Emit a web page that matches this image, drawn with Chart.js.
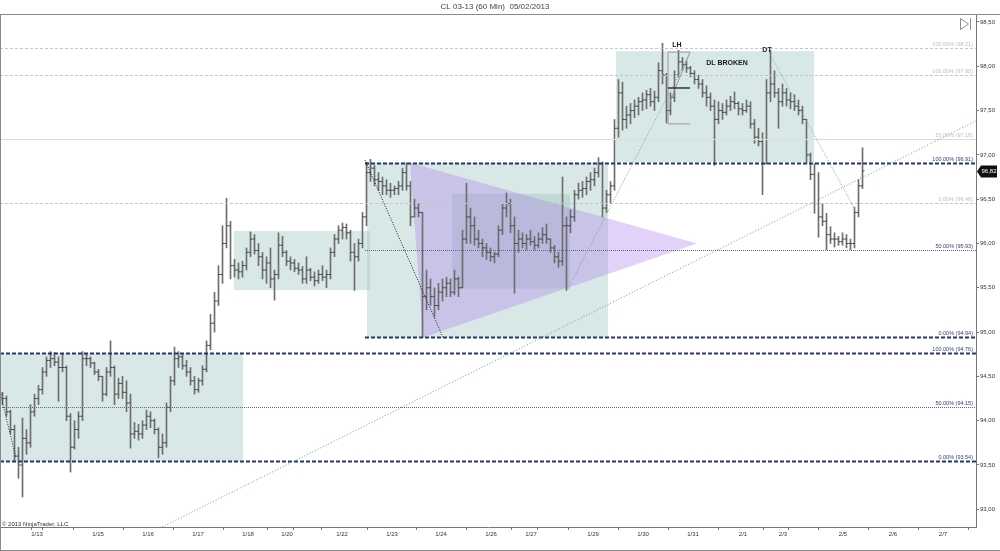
<!DOCTYPE html>
<html>
<head>
<meta charset="utf-8">
<script src="https://cdn.jsdelivr.net/npm/chart.js@4.4.1/dist/chart.umd.min.js"></script>
<style>
  html, body { margin: 0; padding: 0; background: #fff; }
</style>
</head>
<body>
<canvas id="chart" width="1000" height="551"></canvas>
<script>
// CL 03-13, 60 min bars (one entry per bar)
const highs = [
  94.32,94.28,94.12,93.95,93.70,94.03,93.90,94.18,94.30,94.40,
  94.60,94.72,94.78,94.77,94.72,94.75,94.62,94.08,94.00,94.10,
  94.78,94.76,94.72,94.66,94.58,94.50,94.60,94.90,94.62,94.48,
  94.50,94.45,94.30,93.98,93.96,94.00,94.12,94.10,94.02,93.92,
  93.85,94.20,94.50,94.83,94.78,94.75,94.68,94.60,94.50,94.48,
  94.62,94.90,95.20,95.45,95.75,96.20,96.51,96.25,95.82,95.78,
  95.80,95.95,96.13,96.10,96.00,95.90,95.85,95.95,95.70,96.12,
  96.08,95.92,95.85,95.82,95.78,95.74,95.85,95.72,95.68,95.70,
  95.75,95.70,95.95,96.10,96.20,96.23,96.22,96.15,96.00,96.05,
  96.35,96.92,96.95,96.88,96.80,96.75,96.72,96.68,96.65,96.70,
  96.85,96.91,96.70,96.50,96.45,96.35,95.70,95.60,95.50,95.55,
  95.60,95.62,95.60,95.70,95.62,96.15,96.68,96.40,96.30,96.15,
  96.05,96.00,95.95,95.90,96.20,96.45,96.57,96.50,96.30,96.15,
  96.12,96.10,96.15,96.08,96.12,96.18,96.22,96.05,95.98,95.90,
  96.75,96.30,96.38,96.60,96.68,96.70,96.75,96.80,96.85,96.97,
  96.92,96.60,96.70,97.40,97.85,97.82,97.55,97.58,97.62,97.65,
  97.70,97.73,97.75,97.72,98.04,98.26,97.92,97.70,97.95,98.18,
  98.10,98.06,98.00,97.95,97.90,97.85,97.78,97.70,97.62,97.60,
  97.58,97.62,97.66,97.71,97.60,97.58,97.62,97.60,97.40,97.30,
  97.25,97.85,98.18,97.95,97.75,97.80,97.75,97.70,97.68,97.62,
  97.55,97.40,97.02,96.90,96.80,96.45,96.34,96.19,96.12,96.08,
  96.12,96.10,96.05,96.41,96.72,97.08
];
const lows = [
  94.18,94.05,93.85,93.55,93.35,93.14,93.62,93.70,94.05,94.18,
  94.30,94.50,94.60,94.62,94.22,94.55,94.00,93.42,93.68,93.80,
  94.00,94.62,94.60,94.52,94.45,94.22,94.28,94.50,94.18,94.25,
  94.25,94.10,93.69,93.80,93.78,93.80,93.90,93.92,93.85,93.58,
  93.62,93.70,94.10,94.40,94.60,94.58,94.50,94.40,94.30,94.32,
  94.40,94.55,94.80,95.00,95.30,95.55,95.95,95.60,95.62,95.60,
  95.62,95.70,95.85,95.88,95.75,95.60,95.55,95.50,95.36,95.60,
  95.85,95.75,95.70,95.68,95.65,95.55,95.55,95.58,95.52,95.55,
  95.58,95.50,95.60,95.85,96.00,96.05,96.05,95.80,95.47,95.80,
  95.95,96.20,96.70,96.65,96.60,96.55,96.55,96.52,96.55,96.55,
  96.60,96.60,96.20,96.30,96.30,94.94,95.25,95.30,95.17,95.25,
  95.35,95.40,95.40,95.42,95.40,95.50,96.00,96.00,95.98,95.95,
  95.85,95.82,95.80,95.78,95.85,96.10,96.30,96.12,95.44,95.90,
  95.95,95.93,95.98,95.93,95.95,96.00,96.00,95.90,95.78,95.73,
  95.75,95.47,96.12,96.25,96.50,96.52,96.55,96.60,96.65,96.75,
  96.30,96.35,96.45,96.60,97.20,97.28,97.30,97.35,97.42,97.45,
  97.50,97.52,97.55,97.50,97.60,97.80,97.36,97.45,97.60,97.88,
  97.95,97.93,97.88,97.80,97.75,97.65,97.55,97.50,96.88,97.35,
  97.40,97.45,97.50,97.52,97.45,97.45,97.48,97.30,97.13,97.10,
  96.55,96.90,97.60,97.65,97.30,97.55,97.55,97.52,97.50,97.45,
  97.35,96.90,96.72,96.34,96.07,96.20,95.93,96.00,95.96,95.98,
  95.98,95.95,95.93,95.95,96.30,96.62
];
const closes = [
  94.25,94.10,93.90,93.60,93.50,93.80,93.75,94.10,94.25,94.35,
  94.55,94.68,94.70,94.66,94.60,94.60,94.05,93.70,93.90,94.05,
  94.70,94.70,94.65,94.55,94.50,94.30,94.55,94.60,94.30,94.42,
  94.32,94.20,93.85,93.88,93.85,93.95,94.05,94.00,93.90,93.70,
  93.75,94.15,94.45,94.70,94.72,94.62,94.55,94.45,94.35,94.45,
  94.58,94.85,95.10,95.35,95.65,96.00,96.20,95.75,95.70,95.68,
  95.75,95.90,96.05,95.92,95.85,95.70,95.78,95.60,95.65,95.98,
  95.90,95.80,95.78,95.72,95.70,95.60,95.70,95.62,95.58,95.65,
  95.62,95.65,95.90,96.05,96.15,96.18,96.12,95.90,95.85,96.00,
  96.30,96.80,96.85,96.72,96.70,96.65,96.60,96.60,96.62,96.65,
  96.80,96.65,96.30,96.40,96.35,95.40,95.50,95.40,95.30,95.45,
  95.50,95.55,95.45,95.60,95.50,96.05,96.30,96.20,96.05,96.00,
  95.95,95.90,95.85,95.88,96.15,96.40,96.45,96.20,96.00,96.05,
  96.00,96.05,96.02,95.98,96.05,96.10,96.05,95.95,95.85,95.80,
  96.20,96.20,96.30,96.55,96.60,96.62,96.70,96.72,96.80,96.90,
  96.40,96.55,96.65,97.30,97.70,97.40,97.45,97.50,97.55,97.60,
  97.62,97.68,97.60,97.65,97.95,97.90,97.50,97.65,97.90,98.05,
  98.02,97.98,97.92,97.85,97.80,97.70,97.65,97.55,97.40,97.50,
  97.48,97.55,97.60,97.58,97.52,97.50,97.55,97.35,97.20,97.15,
  96.90,97.70,97.80,97.70,97.60,97.70,97.62,97.60,97.55,97.50,
  97.40,97.00,96.78,96.45,96.30,96.25,96.10,96.05,96.05,96.02,
  96.05,96.00,96.00,96.35,96.65,96.82
];
const firstOpen = 94.30;
const lastPrice = 96.82;

// axis ticks (x in bar-index units)
const yTicks = [93.0, 93.5, 94.0, 94.5, 95.0, 95.5, 96.0, 96.5, 97.0, 97.5, 98.0, 98.5];
const tickIdx = [8.625, 11.375, 23.875, 36.375, 48.875, 61.375, 71.125, 74.375, 84.875, 97.375, 109.625,
  122.125, 132.125, 135.375, 147.625, 160.125, 172.625, 185.125, 195.125, 197.625, 210.125, 222.625, 235.125];
const tickLabels = ['1/13', '', '1/15', '1/16', '1/17', '1/18', '1/20', '', '1/22', '1/23', '1/24',
  '1/26', '1/27', '', '1/29', '1/30', '1/31', '2/1', '2/3', '', '2/5', '2/6', '2/7'];

// fibonacci levels drawn on the chart
const fibLevels = [98.21, 97.90, 97.18, 96.91, 96.46, 95.93, 94.94, 94.76, 94.15, 93.54];
const fibPct = ['100.00%', '100.00%', '50.00%', '100.00%', '0.00%', '50.00%', '0.00%', '100.00%', '50.00%', '0.00%'];
const fibKind = ['gray', 'gray', 'graySolid', 'navy', 'gray', 'dot', 'navy', 'navy', 'dot', 'navy'];
const fibStart = [null, null, null, 90.625, null, 90.625, 90.625, null, null, null];

// drawing objects: [x0, x1, yTop, yBottom]
const boxes = [
  [-0.625, 60.125, 94.76, 93.54],
  [57.875, 91.875, 96.14, 95.475],
  [91.125, 151.375, 96.91, 94.94],
  [112.375, 141.875, 96.56, 95.49],
  [153.375, 202.875, 98.17, 96.92]
];
const triangle = [[101.875, 96.91], [105.125, 94.94], [173.625, 96.00]];
const trendLines = [
  { p: [[39.875, 92.80], [243.375, 97.383]], color: '#5f9c9c', dash: [1, 2] },
  { p: [[-0.625, 94.32], [3.375, 93.58]], color: '#222', dash: [1, 1.5] },
  { p: [[90.625, 96.94], [110.125, 94.94]], color: '#222', dash: [1, 1.5] },
  { p: [[141.375, 95.49], [171.875, 98.15]], color: '#6fa6a6', dash: [1, 1.5] },
  { p: [[191.375, 98.18], [213.125, 96.38]], color: '#6fa6a6', dash: [1, 1.5] }
];
const notes = [
  { text: 'LH', x: 168.625, y: 98.24 },
  { text: 'DL BROKEN', x: 181.125, y: 98.04 },
  { text: 'DT', x: 191.125, y: 98.18 }
];

const FONT = '"Liberation Sans", Arial, sans-serif';
const fmt = v => v.toFixed(2).replace('.', ',');

const drawings = {
  id: 'drawings',
  beforeDatasetsDraw(chart) {
    const { ctx, chartArea: a } = chart;
    const X = v => chart.scales.x.getPixelForValue(v);
    const Y = v => chart.scales.y.getPixelForValue(v);
    ctx.save();
    ctx.beginPath();
    ctx.rect(a.left, a.top, a.right - a.left, a.bottom - a.top);
    ctx.clip();
    ctx.fillStyle = 'rgba(150,195,190,0.38)';
    boxes.forEach(b => {
      ctx.fillRect(X(b[0]), Y(b[2]), X(b[1]) - X(b[0]), Y(b[3]) - Y(b[2]));
    });
    ctx.fillStyle = 'rgba(175,125,235,0.35)';
    ctx.beginPath();
    triangle.forEach((p, k) => k ? ctx.lineTo(X(p[0]), Y(p[1])) : ctx.moveTo(X(p[0]), Y(p[1])));
    ctx.closePath();
    ctx.fill();
    ctx.restore();
  },
  afterDatasetsDraw(chart) {
    const { ctx, chartArea: a } = chart;
    const X = v => chart.scales.x.getPixelForValue(v);
    const Y = v => chart.scales.y.getPixelForValue(v);
    ctx.save();
    ctx.beginPath();
    ctx.rect(a.left, a.top, a.right - a.left, a.bottom - a.top);
    ctx.clip();

    // fib levels
    fibLevels.forEach((lv, k) => {
      const y = Math.round(Y(lv)) + 0.5;
      const x0 = fibStart[k] === null ? a.left : X(fibStart[k]);
      const kind = fibKind[k];
      ctx.beginPath();
      if (kind === 'navy') { ctx.strokeStyle = '#243570'; ctx.lineWidth = 2; ctx.setLineDash([4, 2]); }
      else if (kind === 'dot') { ctx.strokeStyle = '#5a6890'; ctx.lineWidth = 1; ctx.setLineDash([1, 1]); }
      else if (kind === 'graySolid') { ctx.strokeStyle = '#dcdcdc'; ctx.lineWidth = 1; ctx.setLineDash([]); }
      else { ctx.strokeStyle = '#c4c4c4'; ctx.lineWidth = 1; ctx.setLineDash([3, 2]); }
      ctx.moveTo(x0, y);
      ctx.lineTo(a.right, y);
      ctx.stroke();
      ctx.setLineDash([]);
      ctx.font = '5.5px ' + FONT;
      ctx.textAlign = 'right';
      ctx.textBaseline = 'bottom';
      ctx.fillStyle = (kind === 'navy' || kind === 'dot') ? '#34407a' : '#c0c0c0';
      ctx.fillText(fibPct[k] + ' (' + lv.toFixed(2) + ')', a.right - 3, y - 1.5);
    });

    // trend lines
    trendLines.forEach(t => {
      ctx.beginPath();
      ctx.strokeStyle = t.color;
      ctx.lineWidth = 1;
      ctx.setLineDash(t.dash);
      ctx.moveTo(X(t.p[0][0]), Y(t.p[0][1]));
      ctx.lineTo(X(t.p[1][0]), Y(t.p[1][1]));
      ctx.stroke();
    });
    ctx.setLineDash([]);

    // LH measuring tool
    const lx0 = X(166.375), lx1 = X(171.875);
    ctx.strokeStyle = '#9a9a9a';
    ctx.lineWidth = 1;
    ctx.beginPath();
    ctx.moveTo(lx1, Y(98.16)); ctx.lineTo(lx0, Y(98.16)); ctx.lineTo(lx0, Y(97.35)); ctx.lineTo(lx1, Y(97.35));
    ctx.moveTo(lx1, Y(98.16)); ctx.lineTo(lx0 + 2, Y(97.6));
    ctx.stroke();
    ctx.strokeStyle = '#333';
    ctx.lineWidth = 1.5;
    ctx.beginPath();
    ctx.moveTo(lx0, Y(97.755)); ctx.lineTo(lx1, Y(97.755));
    ctx.stroke();

    // text notes
    ctx.font = 'bold 7px ' + FONT;
    ctx.fillStyle = '#1a1a1a';
    ctx.textAlign = 'center';
    ctx.textBaseline = 'middle';
    notes.forEach(n => ctx.fillText(n.text, X(n.x), Y(n.y)));
    ctx.restore();
  },
  afterDraw(chart) {
    const { ctx, chartArea: a } = chart;
    const Y = v => chart.scales.y.getPixelForValue(v);
    ctx.save();
    // frame
    ctx.strokeStyle = '#8a8a8a';
    ctx.lineWidth = 1;
    ctx.beginPath();
    ctx.moveTo(0, 14.5); ctx.lineTo(1000, 14.5);
    ctx.moveTo(0.5, 14); ctx.lineTo(0.5, 551);
    ctx.moveTo(0, 550.5); ctx.lineTo(1000, 550.5);
    ctx.stroke();
    // title
    ctx.font = '8px ' + FONT;
    ctx.fillStyle = '#444';
    ctx.textAlign = 'center';
    ctx.textBaseline = 'middle';
    ctx.fillText('CL 03-13 (60 Min)  05/02/2013', 495, 7);
    // copyright
    ctx.font = '6px ' + FONT;
    ctx.fillStyle = '#333';
    ctx.textAlign = 'left';
    ctx.textBaseline = 'alphabetic';
    ctx.fillText('\u00a9 2013 NinjaTrader, LLC', 2, 526);
    // scroll icon
    ctx.strokeStyle = '#8a8a8a';
    ctx.beginPath();
    ctx.moveTo(960.5, 18.5); ctx.lineTo(968.5, 24); ctx.lineTo(960.5, 29.5); ctx.closePath();
    ctx.moveTo(970.5, 18); ctx.lineTo(970.5, 30);
    ctx.stroke();
    // last price marker
    const py = Math.round(Y(lastPrice)) + 0.5;
    ctx.fillStyle = '#111';
    ctx.beginPath();
    ctx.moveTo(a.right + 1, py);
    ctx.lineTo(a.right + 5, py - 6);
    ctx.lineTo(a.right + 21, py - 6);
    ctx.lineTo(a.right + 21, py + 6);
    ctx.lineTo(a.right + 5, py + 6);
    ctx.closePath();
    ctx.fill();
    ctx.fillStyle = '#fff';
    ctx.font = '6px ' + FONT;
    ctx.textAlign = 'center';
    ctx.textBaseline = 'middle';
    ctx.fillText(fmt(lastPrice), a.right + 13, py);
    ctx.restore();
  }
};

const opens = closes.map((c, k) => k ? closes[k - 1] : firstOpen);

new Chart(document.getElementById('chart'), {
  type: 'bar',
  data: {
    datasets: [
      {
        type: 'line',
        data: opens.map((v, k) => ({ x: k, y: v })),
        showLine: false,
        pointStyle: 'dash',
        pointRotation: 180,
        pointRadius: 2,
        pointBorderWidth: 1,
        pointBorderColor: '#444',
        pointHoverRadius: 0
      },
      {
        type: 'line',
        data: closes.map((v, k) => ({ x: k, y: v })),
        showLine: false,
        pointStyle: 'dash',
        pointRotation: 0,
        pointRadius: 2,
        pointBorderWidth: 1,
        pointBorderColor: '#444',
        pointHoverRadius: 0
      },
      {
        type: 'bar',
        data: highs.map((h, k) => ({ x: k, y: [lows[k], h] })),
        backgroundColor: '#6e6e6e',
        barThickness: 1,
        borderWidth: 0
      }
    ]
  },
  options: {
    responsive: false,
    animation: false,
    events: [],
    layout: { autoPadding: false, padding: { top: 14, left: 0, right: 0, bottom: 0 } },
    plugins: {
      legend: { display: false },
      tooltip: { enabled: false },
      title: { display: false }
    },
    scales: {
      x: {
        type: 'linear',
        min: -0.625,
        max: 243.375,
        offset: false,
        afterBuildTicks: s => { s.ticks = tickIdx.map(v => ({ value: v })); },
        afterFit: s => { s.height = 24; },
        grid: { drawOnChartArea: false, drawTicks: true, tickLength: 3, color: '#777' },
        border: { display: true, color: '#777' },
        ticks: {
          autoSkip: false,
          maxRotation: 0,
          padding: 1,
          color: '#333',
          font: { family: FONT, size: 6 },
          callback: (v, i) => tickLabels[i]
        }
      },
      y: {
        position: 'right',
        min: 92.80,
        max: 98.59,
        afterBuildTicks: s => { s.ticks = yTicks.map(v => ({ value: v })); },
        afterFit: s => { s.width = 24; },
        grid: { drawOnChartArea: false, drawTicks: true, tickLength: 3, color: '#777' },
        border: { display: true, color: '#777' },
        ticks: {
          padding: 1,
          color: '#333',
          font: { family: FONT, size: 6 },
          callback: v => fmt(v)
        }
      }
    }
  },
  plugins: [drawings]
});
</script>
</body>
</html>
